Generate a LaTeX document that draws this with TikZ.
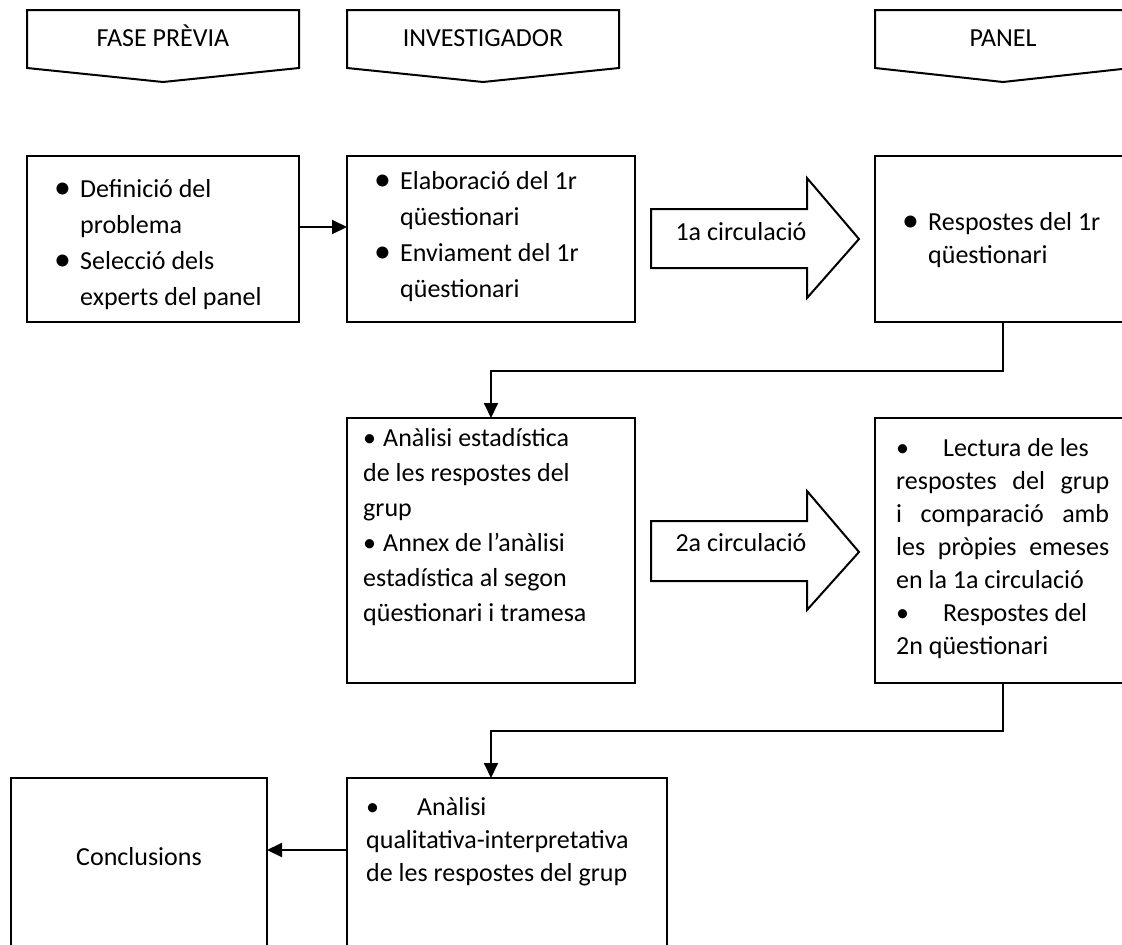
\documentclass[tikz,border=0pt]{standalone}
\usepackage{fontspec}
\setmainfont{Carlito}
\usetikzlibrary{arrows.meta}

\newcommand{\blt}[1]{\makebox[#1][l]{\raisebox{-1.5pt}{\scalebox{1.3}{•}}}}
\newcommand{\pnt}[1]{\makebox[#1][l]{•}}

\begin{document}
\begin{tikzpicture}[
    x=1pt, y=-1pt, line join=miter,
    font=\fontsize{26pt}{33pt}\selectfont,
    box/.style={draw, line width=2pt, anchor=north west, inner sep=0pt, outer sep=0pt},
    txt/.style={anchor=north west, align=left, inner sep=0pt},
    wide/.style={font=\fontsize{26pt}{36pt}\selectfont},
    conn/.style={line width=2pt, -{Triangle[length=15pt, width=14pt]}},
    fat/.style={draw, line width=2pt}]
  \useasboundingbox (0,0) rectangle (1122,945);
  \clip (0,0) rectangle (1122,945);
  % Capcaleres
  \draw[fat] (27,10) -- (299,10) -- (299,68) -- (163,82) -- (27,68) -- cycle;
  \draw[fat] (347,10) -- (619,10) -- (619,68) -- (483,82) -- (347,68) -- cycle;
  \draw[fat] (875,10) -- (1131,10) -- (1131,68) -- (1003,82) -- (875,68) -- cycle;
  \node[anchor=base] (hprev) at (163,46) {FASE PRÈVIA};
  \node[anchor=base] (hinv) at (483,46) {INVESTIGADOR};
  \node[anchor=base] (hpan) at (1003,46) {PANEL};
  % Caixes
  \node[box, minimum width=272pt, minimum height=166pt] (prob) at (27,156) {};
  \node[box, minimum width=288pt, minimum height=166pt] (elab) at (347,156) {};
  \node[box, minimum width=256pt, minimum height=166pt] (resp1) at (875,156) {};
  \node[box, minimum width=288pt, minimum height=265pt] (estad) at (347,418) {};
  \node[box, minimum width=256pt, minimum height=265pt] (resp2) at (875,418) {};
  \node[box, minimum width=256pt, minimum height=172pt] (concl) at (11,778) {};
  \node[box, minimum width=320pt, minimum height=172pt] (qual) at (347,778) {};
  % Textos (primera linia amb \strut)
  \node[txt, wide] (probt) at (54,171.8) {\strut\blt{26pt}Definició del\\\hspace*{26pt}problema\\
    \blt{26pt}Selecció dels\\\hspace*{26pt}experts del panel};
  \node[txt, wide] (elabt) at (374,163.8) {\strut\blt{26pt}Elaboració del 1r\\\hspace*{26pt}qüestionari\\
    \blt{26pt}Enviament del 1r\\\hspace*{26pt}qüestionari};
  \node[txt] (resp1t) at (902,206.9) {\strut\blt{26pt}Respostes del 1r\\\hspace*{26pt}qüestionari};
  \node[txt] (estadt) at (363,422.9) {\strut\pnt{20pt}Anàlisi estadística\\[2pt]de les respostes del\\[2pt]grup\\[2pt]
    \pnt{20pt}Annex de l’anàlisi\\[2pt]estadística al segon\\[2pt]qüestionari i tramesa};
  \node[txt] (resp2t) at (896,432.9) {\strut\pnt{47pt}Lectura de les\\
    \makebox[213pt][s]{respostes del grup}\\
    \makebox[213pt][s]{i comparació amb}\\
    \makebox[213pt][s]{les pròpies emeses}\\
    en la 1a circulació\\\pnt{47pt}Respostes del\\2n qüestionari};
  \node[txt] (qualt) at (366,791.9) {\strut\pnt{51pt}Anàlisi\\qualitativa-interpretativa\\de les respostes del grup};
  \node[anchor=base] (conclt) at (139,865) {Conclusions};
  % Circulacions
  \draw[fat] (651,209) -- (807,209) -- (807,178) -- (859,239) -- (807,298) -- (807,268) -- (651,268) -- cycle;
  \node[anchor=base west] (circ1) at (672,240) {1a circulació};
  \draw[fat] (651,521) -- (807,521) -- (807,491) -- (859,552) -- (807,610) -- (807,581) -- (651,581) -- cycle;
  \node[anchor=base west] (circ2) at (672,551) {2a circulació};
  % Fletxes
  \draw[conn] ([yshift=12pt]prob.east) -- ([yshift=12pt]elab.west);
  \draw[conn] (resp1.south) -- ++(0,49) -| (estad.north);
  \draw[conn] (resp2.south) -- ++(0,48) -| ([xshift=-16pt]qual.north);
  \draw[conn] ([yshift=14pt]qual.west) -- ([yshift=14pt]concl.east);
\end{tikzpicture}
\end{document}
